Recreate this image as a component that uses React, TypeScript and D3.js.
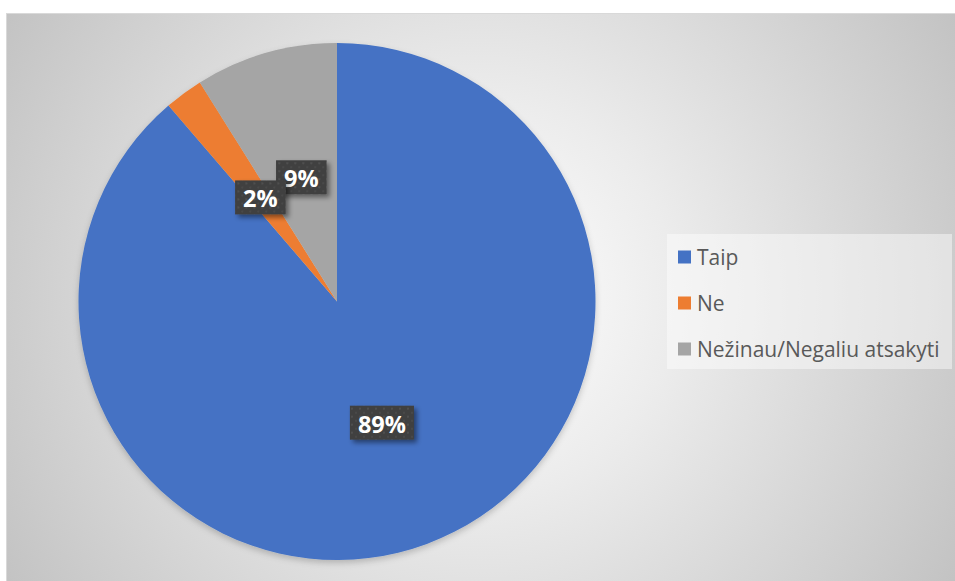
import React, { useEffect, useRef } from "react";
import * as d3 from "d3";

const categories = ["Taip", "Ne", "Nežinau/Negaliu atsakyti"];
const values = [88.7, 2.4, 8.9];
const labels = ["89%", "2%", "9%"];
const colors = ["#4472C4", "#ED7D31", "#A5A5A5"];

const W = 955;
const H = 581;

export default function App() {
  const ref = useRef<SVGSVGElement | null>(null);

  useEffect(() => {
    const svg = d3.select(ref.current);
    svg.selectAll("*").remove();
    const defs = svg.append("defs");

    const rg = defs
      .append("radialGradient")
      .attr("id", "bg")
      .attr("gradientUnits", "userSpaceOnUse")
      .attr("cx", 480)
      .attr("cy", 297)
      .attr("r", 560);
    rg.append("stop").attr("offset", 0).attr("stop-color", "#ffffff");
    rg.append("stop").attr("offset", 0.35).attr("stop-color", "#ececec");
    rg.append("stop").attr("offset", 1).attr("stop-color", "#c2c2c2");

    const pat = defs
      .append("pattern")
      .attr("id", "dots")
      .attr("patternUnits", "userSpaceOnUse")
      .attr("width", 8)
      .attr("height", 8);
    pat.append("rect").attr("width", 8).attr("height", 8).attr("fill", "#404040");
    pat.append("circle").attr("cx", 2).attr("cy", 2).attr("r", 1).attr("fill", "#555555");
    pat.append("circle").attr("cx", 6).attr("cy", 6).attr("r", 1).attr("fill", "#4c4c4c");

    const sh = defs.append("filter").attr("id", "shadow").attr("x", "-20%").attr("y", "-20%").attr("width", "150%").attr("height", "150%");
    sh.append("feDropShadow").attr("dx", 3).attr("dy", 3).attr("stdDeviation", 2.5).attr("flood-color", "#000").attr("flood-opacity", 0.45);

    const psh = defs.append("filter").attr("id", "pshadow").attr("x", "-10%").attr("y", "-10%").attr("width", "120%").attr("height", "125%");
    psh.append("feDropShadow").attr("dx", 0).attr("dy", 3).attr("stdDeviation", 3).attr("flood-color", "#000").attr("flood-opacity", 0.2);

    // chart area
    svg
      .append("rect")
      .attr("x", 6.5)
      .attr("y", 13.5)
      .attr("width", W)
      .attr("height", H)
      .attr("fill", "url(#bg)")
      .attr("stroke", "#d9d9d9");

    const cx = 337;
    const cy = 301.5;
    const r = 258.5;

    const pie = d3
      .pie<number>()
      .sort(null)
      .value((d) => d)
      .startAngle(0)
      .endAngle(2 * Math.PI);
    const arcs = pie(values);
    const arc = d3.arc<d3.PieArcDatum<number>>().innerRadius(0).outerRadius(r);

    const g = svg.append("g").attr("transform", `translate(${cx},${cy})`);
    g.append("g")
      .attr("filter", "url(#pshadow)")
      .selectAll("path")
      .data(arcs)
      .join("path")
      .attr("d", arc)
      .attr("fill", (_d, i) => colors[i]);

    // labels drawn: blue first, gray, then orange on top
    const order = [0, 2, 1];
    order.forEach((i) => {
      const [lx, ly] = arc.centroid(arcs[i]);
      const lg = g.append("g").attr("transform", `translate(${lx},${ly})`);
      const rect = lg.append("rect").attr("fill", "url(#dots)").attr("filter", "url(#shadow)");
      const t = lg
        .append("text")
        .attr("text-anchor", "middle")
        .attr("dominant-baseline", "central")
        .attr("y", 1)
        .attr("font-family", "'Open Sans', sans-serif")
        .attr("font-weight", 700)
        .attr("font-size", 23.5)
        .attr("fill", "#ffffff")
        .text(labels[i]);
      const tw = (t.node() as SVGTextElement).getComputedTextLength();
      const bw = tw + 16;
      const bh = 34;
      rect.attr("x", -bw / 2).attr("y", -bh / 2).attr("width", bw).attr("height", bh);
    });

    // legend
    const lgX = 667;
    const lgY = 234;
    svg
      .append("rect")
      .attr("x", lgX)
      .attr("y", lgY)
      .attr("width", 285)
      .attr("height", 135)
      .attr("fill", "#ffffff")
      .attr("opacity", 0.45);
    const step = 46;
    categories.forEach((c, i) => {
      const yy = 257 + i * step;
      svg
        .append("rect")
        .attr("x", 678)
        .attr("y", yy - 6.5)
        .attr("width", 13)
        .attr("height", 13)
        .attr("fill", colors[i]);
      svg
        .append("text")
        .attr("x", 697)
        .attr("y", yy + 7.5)
        .attr("font-family", "'Open Sans', sans-serif")
        .attr("font-size", 21)
        .attr("fill", "#595959")
        .text(c);
    });
  }, []);

  return (
    <svg
      ref={ref}
      width={W}
      height={H}
      style={{ position: "absolute", left: 0, top: 0, display: "block" }}
    />
  );
}
